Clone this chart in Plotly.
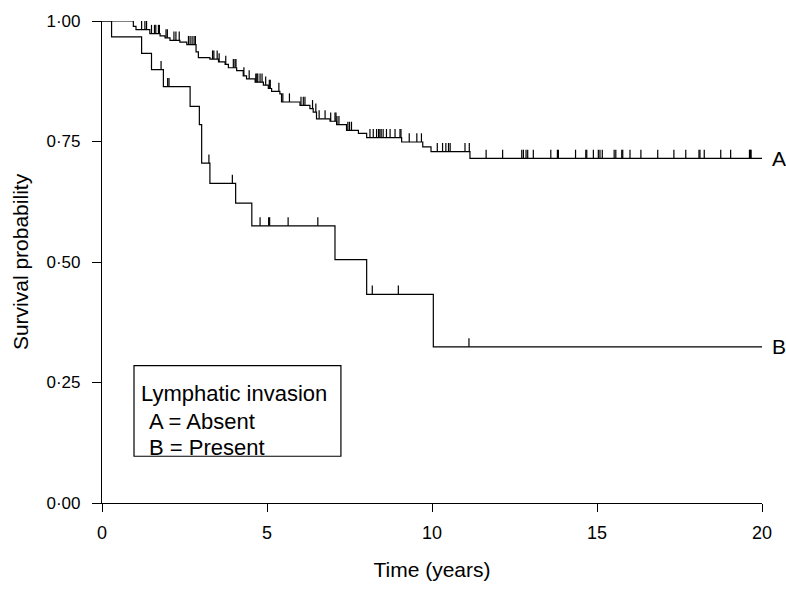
import numpy as np
import plotly.graph_objects as go

# ---- Data ----
# Group A (lymphatic invasion absent): step times and survival after each step
times_A = [0, 0.95, 1.03, 1.45, 1.76, 1.91, 2.06, 2.36, 2.57, 2.85, 2.92, 3.27, 3.53, 3.73, 3.83,
           4.08, 4.28, 4.38, 4.64, 4.89, 5.04, 5.14, 5.39, 5.44, 6.00, 6.30, 6.40, 6.50, 6.91,
           7.11, 7.41, 7.77, 8.02, 9.08, 9.72, 9.97, 11.15]
surv_A = [1.0, 0.989, 0.982, 0.974, 0.969, 0.965, 0.960, 0.956, 0.951, 0.936, 0.924, 0.921, 0.915,
          0.910, 0.903, 0.897, 0.886, 0.880, 0.873, 0.867, 0.860, 0.854, 0.849, 0.832, 0.825,
          0.818, 0.811, 0.797, 0.792, 0.785, 0.773, 0.767, 0.758, 0.749, 0.739, 0.729, 0.715]
censor_A = [0.22, 0.26, 0.30, 0.49, 0.52, 0.58, 0.78,
            1.20, 1.30, 1.35, 1.50, 1.59, 1.63, 1.71, 1.74,
            1.94, 1.98, 2.18, 2.24, 2.34,
            2.62, 2.67, 2.73, 2.79, 2.83,
            3.35, 3.39, 3.49, 3.55, 3.75, 3.98, 4.03, 4.06, 4.30, 4.46,
            4.66, 4.69, 4.72, 4.79, 4.85, 4.96, 5.07, 5.10, 5.36, 5.48, 5.68,
            6.03, 6.10, 6.15, 6.38, 6.48, 6.58, 6.76, 6.93, 7.06, 7.09, 7.12, 7.18, 7.45, 7.50, 7.56,
            8.12, 8.22, 8.32, 8.38, 8.42, 8.46, 8.52, 8.62, 8.73, 8.88, 9.03, 9.06,
            9.31, 9.54, 9.68, 10.16, 10.32, 10.42, 10.50, 10.55, 11.00, 11.13,
            11.64, 12.14, 12.72, 12.77, 12.85, 12.90, 13.07, 13.60, 13.80, 13.83, 14.35, 14.66,
            14.69, 14.89, 15.04, 15.09, 15.16, 15.52, 15.57, 15.75, 15.78, 16.00, 16.33, 16.84,
            17.33, 17.69, 18.09, 18.12, 18.25, 18.75, 19.05, 19.62, 19.65, 19.67]

# Group B (lymphatic invasion present)
times_B = [0, 0.29, 1.20, 1.50, 1.86, 2.67, 2.95, 3.02, 3.27, 4.05, 4.54, 7.06, 8.02, 10.04]
surv_B = [1.0, 0.967, 0.933, 0.899, 0.864, 0.823, 0.785, 0.705, 0.663, 0.622, 0.575, 0.505, 0.433, 0.324]
censor_B = [1.79, 1.99, 2.03, 3.24, 3.95, 4.79, 5.05, 5.08, 5.64, 6.54, 8.19, 8.98, 11.12]

x_end = 20
y_ticks = [0, 0.25, 0.5, 0.75, 1.0]
y_ticklabels = ["0·00", "0·25", "0·50", "0·75", "1·00"]
x_ticks = [0, 5, 10, 15, 20]

TICK_H = 0.018  # censor-mark height in survival units


def step_value(times, surv, t):
    i = np.searchsorted(np.asarray(times), t, side="right") - 1
    return surv[i]


def censor_segments(times, surv, cens):
    xs, ys = [], []
    for t in cens:
        v = step_value(times, surv, t)
        xs += [t, t, None]
        ys += [v, v + TICK_H, None]
    return xs, ys


fig = go.Figure()
line_style = dict(color="black", width=1.2)

for times, surv, cens in [(times_A, surv_A, censor_A), (times_B, surv_B, censor_B)]:
    fig.add_trace(go.Scatter(x=list(times) + [x_end], y=list(surv) + [surv[-1]],
                             mode="lines", line=dict(shape="hv", **line_style),
                             showlegend=False, hoverinfo="skip"))
    cx, cy = censor_segments(times, surv, cens)
    fig.add_trace(go.Scatter(x=cx, y=cy, mode="lines", line=line_style,
                             showlegend=False, hoverinfo="skip"))

font_family = "Liberation Sans, Arial, sans-serif"

fig.add_annotation(x=x_end, y=surv_A[-1], text="A", showarrow=False, xanchor="left",
                   xshift=8, font=dict(size=21, color="black", family=font_family))
fig.add_annotation(x=x_end, y=surv_B[-1], text="B", showarrow=False, xanchor="left",
                   xshift=8, font=dict(size=21, color="black", family=font_family))

# Legend box
fig.add_shape(type="rect", xref="paper", yref="paper", x0=0.0485, x1=0.362, y0=0.097, y1=0.285,
              line=dict(color="black", width=1.2), fillcolor="white", layer="above")
fig.add_annotation(xref="paper", yref="paper", x=0.056, y=0.228, text="Lymphatic invasion",
                   showarrow=False, xanchor="left", yanchor="middle",
                   font=dict(size=22, color="black", family=font_family))
fig.add_annotation(xref="paper", yref="paper", x=0.068, y=0.170, text="A = Absent",
                   showarrow=False, xanchor="left", yanchor="middle",
                   font=dict(size=22, color="black", family=font_family))
fig.add_annotation(xref="paper", yref="paper", x=0.068, y=0.116, text="B = Present",
                   showarrow=False, xanchor="left", yanchor="middle",
                   font=dict(size=22, color="black", family=font_family))

fig.update_layout(
    width=786, height=589,
    margin=dict(l=102, r=24, t=18, b=84),
    paper_bgcolor="white", plot_bgcolor="white",
    font=dict(family=font_family, color="black", size=17),
    xaxis=dict(range=[0, 20], tickvals=x_ticks, showgrid=False, zeroline=False,
               showline=True, linecolor="black", linewidth=1.2,
               ticks="outside", ticklen=8, tickwidth=1.2, tickcolor="black",
               tickfont=dict(size=18), ticklabelstandoff=5,
               title=dict(text="Time (years)", font=dict(size=21), standoff=20)),
    yaxis=dict(range=[0, 1], tickvals=y_ticks, ticktext=y_ticklabels, showgrid=False,
               zeroline=False, showline=True, linecolor="black", linewidth=1.2,
               ticks="outside", ticklen=9, tickwidth=1.2, tickcolor="black",
               tickfont=dict(size=17), ticklabelstandoff=8,
               title=dict(text="Survival probability", font=dict(size=21), standoff=12)),
)

fig.write_html("out.html")
